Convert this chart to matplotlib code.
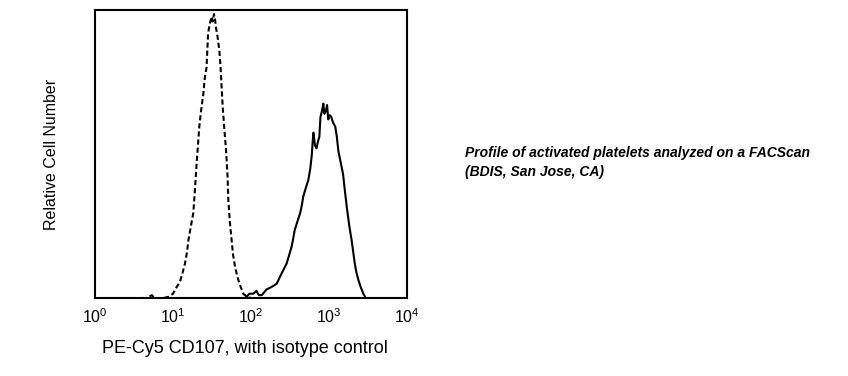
import matplotlib.pyplot as plt
import numpy as np

plt.rcParams['font.family'] = ['Liberation Sans', 'DejaVu Sans']
plt.rcParams['mathtext.fontset'] = 'custom'
plt.rcParams['mathtext.rm'] = 'Liberation Sans'
plt.rcParams['mathtext.it'] = 'Liberation Sans:italic'

# isotype control (dashed), x given as log10 of intensity
iso_logx = [0.60, 0.66, 0.73, 0.76, 0.88, 0.95, 1.00, 1.04, 1.09, 1.12, 1.154, 1.18, 1.197,
            1.23, 1.26, 1.28, 1.30, 1.32, 1.337, 1.36, 1.389, 1.41, 1.43, 1.44, 1.45,
            1.47, 1.496, 1.51, 1.526, 1.54, 1.55, 1.57, 1.594, 1.61, 1.637, 1.66, 1.68,
            1.70, 1.709, 1.73, 1.752, 1.77, 1.795, 1.82, 1.85, 1.88, 1.90, 1.945, 2.00]
iso_y = [0.0, 0.0, 1.0, 0.0, 0.0, 0.5, 1.5, 3.5, 5.7, 8.5, 12.0, 16.0, 20.0,
         25.0, 29.5, 37.0, 45.6, 53.0, 59.5, 65.0, 71.0, 77.0, 80.0, 86.0, 91.9,
         95.0, 97.7, 96.0, 98.6, 96.5, 94.0, 91.0, 86.0, 80.0, 66.4, 58.0, 51.4,
         42.0, 34.0, 26.0, 20.0, 15.0, 10.9, 8.0, 5.1, 3.0, 1.5, 0.5, 0.0]

# CD107 stained platelets (solid)
cd_logx = [1.945, 1.98, 2.03, 2.07, 2.10, 2.137, 2.17, 2.20, 2.24, 2.286, 2.33, 2.37,
           2.41, 2.457, 2.49, 2.52, 2.54, 2.56, 2.60, 2.63, 2.65, 2.67, 2.70, 2.735,
           2.76, 2.778, 2.79, 2.80, 2.82, 2.84, 2.86, 2.876, 2.89, 2.91, 2.927, 2.94,
           2.96, 2.975, 2.99, 3.01, 3.03, 3.05, 3.08, 3.10, 3.12, 3.15, 3.18, 3.20,
           3.227, 3.26, 3.29, 3.31, 3.33, 3.35, 3.376, 3.41, 3.44, 3.47]
cd_y = [0.5, 1.5, 1.5, 2.5, 1.0, 1.0, 2.0, 3.0, 3.5, 4.2, 5.0, 7.3,
        9.5, 12.0, 15.0, 17.8, 20.5, 23.6, 27.0, 29.5, 32.0, 35.3, 38.0, 41.0,
        45.0, 49.4, 54.0, 57.4, 53.0, 52.0, 54.5, 56.0, 62.8, 65.0, 67.5, 64.0,
        65.0, 67.0, 62.0, 63.5, 62.8, 61.0, 59.5, 56.0, 51.0, 47.0, 43.0, 38.0,
        31.7, 25.0, 20.0, 16.0, 12.0, 9.0, 6.3, 3.5, 1.5, 0.0]

tick_vals = [1, 10, 100, 1000, 10000]
tick_labels = [r'$\mathregular{10^{%d}}$' % i for i in range(5)]

fig = plt.figure(figsize=(8.48, 3.76), dpi=100)
ax = fig.add_axes([0.112, 0.2074, 0.368, 0.766])

ax.plot(10 ** np.array(iso_logx), iso_y, color='black', lw=1.5,
        linestyle=(0, (2.5, 1.4)))
ax.plot(10 ** np.array(cd_logx), cd_y, color='black', lw=1.5)

ax.set_xscale('log')
ax.set_xlim(1, 10000)
ax.set_ylim(0, 100)
ax.set_xticks(tick_vals)
ax.set_xticklabels(tick_labels, fontsize=11.5)
ax.minorticks_off()
ax.tick_params(axis='x', length=0, pad=7)
ax.set_yticks([])
for s in ax.spines.values():
    s.set_linewidth(1.5)

ax.set_xlabel('PE-Cy5 CD107, with isotype control', fontsize=13, labelpad=10)
ax.xaxis.label.set_x(0.482)
ax.set_ylabel('Relative Cell Number', fontsize=11.5, labelpad=26)

fig.text(0.548, 0.593, 'Profile of activated platelets analyzed on a FACScan',
         fontsize=10, fontweight='bold', fontstyle='italic', va='center')
fig.text(0.548, 0.543, '(BDIS, San Jose, CA)',
         fontsize=10, fontweight='bold', fontstyle='italic', va='center')

fig.savefig('out.png', dpi=100)
